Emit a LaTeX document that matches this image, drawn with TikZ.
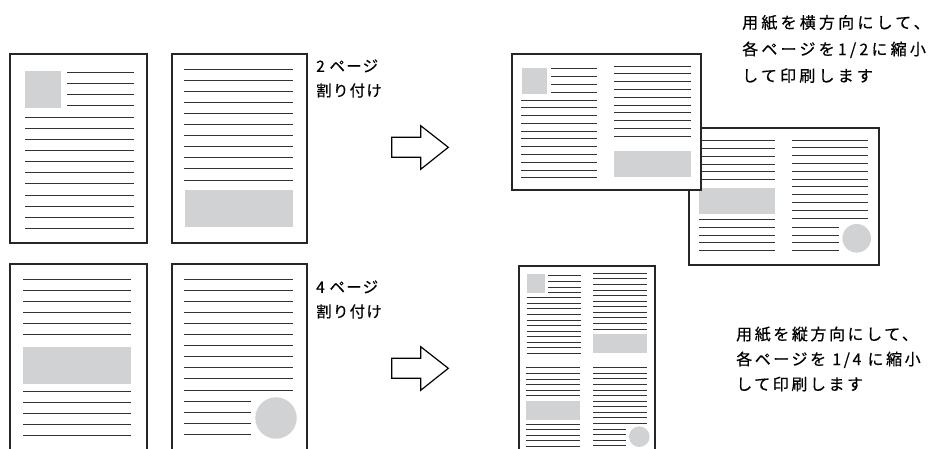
\documentclass[tikz,border=0pt]{standalone}
\usepackage{fontspec}
\newfontfamily\jpfont[LetterSpace=8, FakeBold=0.5]{Noto Sans CJK JP}
\newfontfamily\jpwide[LetterSpace=16, FakeBold=0.5]{Noto Sans CJK JP}
\newfontfamily\jpwider[LetterSpace=20, FakeBold=0.5]{Noto Sans CJK JP}
\definecolor{paperGray}{RGB}{209,210,212}

\begin{document}
\begin{tikzpicture}[x=1pt, y=-1pt,
    page/.style={draw=black!85, line width=1.3pt, fill=white},
    textline/.style={draw=black!80, line width=1pt},
    smallline/.style={draw=black!80, line width=0.8pt},
    imagebox/.style={fill=paperGray},
    notelabel/.style={inner sep=0pt, anchor=west, align=left},
    blockarrow/.style={draw=black, line width=1.2pt, fill=white, line join=miter}]

    % frame of the whole figure
    \useasboundingbox (0,0) rectangle (930,448);
    \clip (0,0) rectangle (930,448);

    % ---- upper row: two original pages ----
    \draw[page] (10,54) rectangle (147,243);
    \fill[imagebox] (25,71) rectangle (61,108);
    \foreach \i in {0,...,3}
        \draw[textline] (67,72.7+11*\i) -- (134,72.7+11*\i);
    \foreach \i in {0,...,10}
        \draw[textline] (25,117.3+11.1*\i) -- (134,117.3+11.1*\i);

    \draw[page] (172,54) rectangle (307,243);
    \foreach \i in {0,...,10}
        \draw[textline] (184,69+11.1*\i) -- (293,69+11.1*\i);
    \fill[imagebox] (185,190) rectangle (293,227);

    % label of the 2-up layout
    \node[notelabel, font=\jpfont\fontsize{15.5}{24.5}\selectfont] (twoup) at (316,78.5) {2 ページ\\割り付け};

    % arrow of the upper row
    \draw[blockarrow] (391.7,137.3) -- (420.7,137.3) -- (420.7,125.7) -- (448.3,147.3)
        -- (420.7,169.3) -- (420.7,157.3) -- (391.7,157.3) -- cycle;

    % ---- lower row: four original pages (two shown) ----
    \draw[page] (10,264) rectangle (147,470);
    \foreach \i in {0,...,5}
        \draw[textline] (23,279+11.1*\i) -- (131,279+11.1*\i);
    \fill[imagebox] (23,347) rectangle (131,384);
    \foreach \i in {0,...,4}
        \draw[textline] (23,391+11.1*\i) -- (131,391+11.1*\i);

    \draw[page] (172,264) rectangle (307,470);
    \foreach \i in {0,...,10}
        \draw[textline] (184,279+11.1*\i) -- (293,279+11.1*\i);
    \foreach \i in {0,...,3}
        \draw[textline] (184,401.7+11*\i) -- (251,401.7+11*\i);
    \fill[imagebox] (276,418) circle (20.7);

    % label of the 4-up layout
    \node[notelabel, font=\jpfont\fontsize{15.5}{24.5}\selectfont] (fourup) at (316,299.5) {4 ページ\\割り付け};

    % arrow of the lower row
    \draw[blockarrow] (391.7,358.3) -- (420.7,358.3) -- (420.7,346.7) -- (448.3,368.3)
        -- (420.7,390.3) -- (420.7,378.3) -- (391.7,378.3) -- cycle;

    % ---- result of 2-up: second landscape sheet (behind) ----
    \draw[page] (689,128) rectangle (879,265);
    \foreach \i in {0,...,5}
        \draw[smallline] (699,140.7+7.75*\i) -- (775,140.7+7.75*\i);
    \fill[imagebox] (699,188) rectangle (775,213.7);
    \foreach \i in {0,...,4}
        \draw[smallline] (699,219.3+7.85*\i) -- (775,219.3+7.85*\i);
    \foreach \i in {0,...,10}
        \draw[smallline] (792,140+7.8*\i) -- (868,140+7.8*\i);
    \foreach \i in {0,...,3}
        \draw[smallline] (792,227+7.9*\i) -- (838.7,227+7.9*\i);
    \fill[imagebox] (856.7,238.3) circle (14.3);

    % first landscape sheet (front)
    \draw[page] (512,54) rectangle (701,190);
    \fill[imagebox] (522,68) rectangle (547,93.7);
    \foreach \i in {0,...,3}
        \draw[smallline] (551,68.7+8*\i) -- (597,68.7+8*\i);
    \foreach \i in {0,...,10}
        \draw[smallline] (521,100+7.77*\i) -- (597,100+7.77*\i);
    \foreach \i in {0,...,9}
        \draw[smallline] (614,66+7.78*\i) -- (690.7,66+7.78*\i);
    \fill[imagebox] (614,151) rectangle (690.7,176.7);

    % note for 2-up
    \node[notelabel, font=\jpwider\fontsize{16}{26.6}\selectfont] (twonote) at (742,49)
        {用紙を横方向にして、\\各ページを1/2に縮小\\して印刷します};

    % ---- result of 4-up: one portrait sheet ----
    \draw[page] (519,266) rectangle (655,470);
    % top left
    \fill[imagebox] (527,274) rectangle (545,292.7);
    \foreach \i in {0,...,3}
        \draw[smallline] (548.3,275.3+5.8*\i) -- (581,275.3+5.8*\i);
    \foreach \i in {0,...,10}
        \draw[smallline] (526.7,297.7+5.56*\i) -- (581,297.7+5.56*\i);
    % top right
    \foreach \i in {0,...,10}
        \draw[smallline] (593,273.3+5.57*\i) -- (647,273.3+5.57*\i);
    \fill[imagebox] (593,334) rectangle (647,352.7);
    % bottom left
    \foreach \i in {0,...,5}
        \draw[smallline] (525.7,367.7+5.6*\i) -- (580,367.7+5.6*\i);
    \fill[imagebox] (525.7,400.7) rectangle (580,419.7);
    \foreach \i in {0,...,4}
        \draw[smallline] (525.7,424.3+5.5*\i) -- (580,424.3+5.5*\i);
    % bottom right
    \foreach \i in {0,...,10}
        \draw[smallline] (593,367.7+5.57*\i) -- (647,367.7+5.57*\i);
    \foreach \i in {0,...,3}
        \draw[smallline] (593,429+5.57*\i) -- (626,429+5.57*\i);
    \fill[imagebox] (639.3,436.7) circle (10.3);

    % note for 4-up
    \node[notelabel, font=\jpwide\fontsize{16}{25}\selectfont] (fournote) at (736,359)
        {用紙を縦方向にして、\\各ページを 1/4 に縮小\\して印刷します};
\end{tikzpicture}
\end{document}
